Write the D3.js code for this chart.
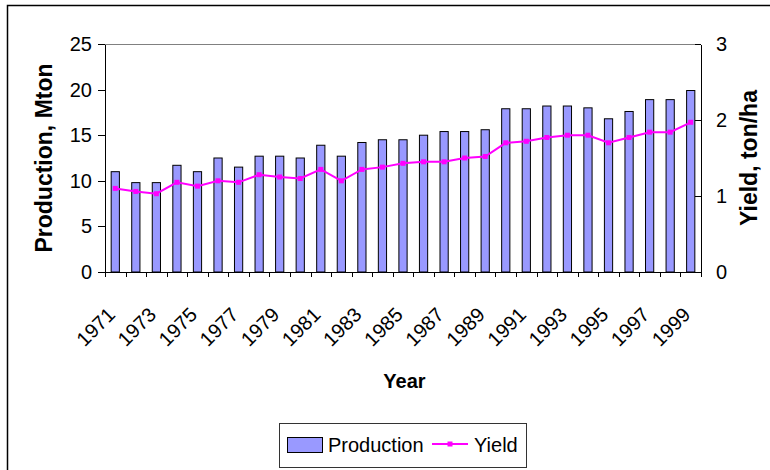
<!DOCTYPE html>
<html>
<head>
<meta charset="utf-8">
<script src="https://cdn.jsdelivr.net/npm/d3@7"></script>
<style>
  html, body { margin: 0; padding: 0; background: #fff; }
  svg { display: block; font-family: "Liberation Sans", Arial, sans-serif; }
  .axis path, .axis line { stroke: #000; shape-rendering: crispEdges; }
  .axis text { font-family: "Liberation Sans", Arial, sans-serif; font-size: 20px; fill: #000; }
</style>
</head>
<body>
<svg id="chart" width="770" height="470"></svg>
<script>
// years on the category axis, every other one gets a label
var years = d3.range(1971, 2000);
var yearLabels = years.filter(function (y) { return (y - 1971) % 2 === 0; });

// production, Mton (left axis)
var production = [11.0, 9.8, 9.8, 11.7, 11.0, 12.5, 11.5, 12.7, 12.7, 12.5,
                  13.9, 12.7, 14.2, 14.5, 14.5, 15.0, 15.4, 15.4, 15.6, 17.9,
                  17.9, 18.2, 18.2, 18.0, 16.8, 17.6, 18.9, 18.9, 19.9];

// yield, ton/ha (right axis)
var yieldVals = [1.10, 1.06, 1.03, 1.18, 1.13, 1.20, 1.18, 1.28, 1.25, 1.23,
                 1.35, 1.20, 1.35, 1.38, 1.43, 1.45, 1.45, 1.50, 1.52, 1.70,
                 1.72, 1.77, 1.80, 1.80, 1.70, 1.77, 1.84, 1.84, 1.97];

var leftTicks = [0, 5, 10, 15, 20, 25];
var rightTicks = [0, 1, 2, 3];

var plot = { left: 105, right: 701, top: 44, bottom: 272 };
var barColor = '#9999ff';
var lineColor = '#ff00ff';

var svg = d3.select('#chart');

// outer chart border (right and bottom edges run off the canvas)
svg.append('rect')
  .attr('x', 7.5).attr('y', 5.5)
  .attr('width', 800).attr('height', 500)
  .attr('fill', 'none')
  .attr('stroke', '#000')
  .attr('stroke-width', 1.5);

var x = d3.scaleBand()
  .domain(years)
  .range([plot.left, plot.right])
  .paddingInner(0.6)
  .paddingOuter(0.3);

// index scale, used for the category boundary ticks
var xIdx = d3.scaleLinear().domain([0, years.length]).range([plot.left, plot.right]);

var yL = d3.scaleLinear().domain([0, 25]).range([plot.bottom, plot.top]);
var yR = d3.scaleLinear().domain([0, 3]).range([plot.bottom, plot.top]);

// plot area top border
svg.append('line')
  .attr('x1', plot.left).attr('x2', plot.right)
  .attr('y1', plot.top + 0.5).attr('y2', plot.top + 0.5)
  .attr('stroke', '#808080')
  .attr('stroke-width', 1);

// bars
svg.append('g')
  .selectAll('rect')
  .data(production)
  .join('rect')
  .attr('x', function (d, i) { return x(years[i]); })
  .attr('y', function (d) { return yL(d); })
  .attr('width', x.bandwidth())
  .attr('height', function (d) { return yL(0) - yL(d); })
  .attr('fill', barColor)
  .attr('stroke', '#000')
  .attr('stroke-width', 1);

// yield line
var cx = function (i) { return x(years[i]) + x.bandwidth() / 2; };
var line = d3.line()
  .x(function (d, i) { return cx(i); })
  .y(function (d) { return yR(d); });

svg.append('path')
  .datum(yieldVals)
  .attr('d', line)
  .attr('fill', 'none')
  .attr('stroke', lineColor)
  .attr('stroke-width', 2);

svg.append('g')
  .selectAll('rect')
  .data(yieldVals)
  .join('rect')
  .attr('x', function (d, i) { return cx(i) - 2.5; })
  .attr('y', function (d) { return yR(d) - 2.5; })
  .attr('width', 5)
  .attr('height', 5)
  .attr('fill', lineColor);

// left axis
svg.append('g')
  .attr('class', 'axis')
  .attr('transform', 'translate(' + plot.left + ',0)')
  .call(d3.axisLeft(yL).tickValues(leftTicks).tickSize(7).tickSizeOuter(0).tickPadding(6));

// right axis, ticks point inward
svg.append('g')
  .attr('class', 'axis')
  .attr('transform', 'translate(' + plot.right + ',0)')
  .call(d3.axisRight(yR).tickValues(rightTicks).tickFormat(d3.format('d'))
    .tickSize(-6).tickSizeOuter(0).tickPadding(15));

// bottom axis: ticks on category boundaries, no labels
svg.append('g')
  .attr('class', 'axis')
  .attr('transform', 'translate(0,' + plot.bottom + ')')
  .call(d3.axisBottom(xIdx).tickValues(d3.range(years.length + 1)).tickSize(5).tickSizeOuter(0).tickFormat(''));

// rotated year labels
svg.append('g')
  .selectAll('text')
  .data(yearLabels)
  .join('text')
  .attr('transform', function (d) {
    return 'translate(' + (x(d) + x.bandwidth() / 2 + 1) + ',316) rotate(-45)';
  })
  .attr('text-anchor', 'end')
  .attr('font-size', 20)
  .text(function (d) { return d; });

// axis titles
svg.append('text')
  .attr('transform', 'translate(52,' + (plot.top + plot.bottom) / 2 + ') rotate(-90)')
  .attr('text-anchor', 'middle')
  .attr('font-size', 23)
  .attr('font-weight', 'bold')
  .text('Production, Mton');

svg.append('text')
  .attr('transform', 'translate(757,' + (plot.top + plot.bottom) / 2 + ') rotate(-90)')
  .attr('text-anchor', 'middle')
  .attr('font-size', 23)
  .attr('font-weight', 'bold')
  .text('Yield, ton/ha');

svg.append('text')
  .attr('x', 404.5)
  .attr('y', 388)
  .attr('text-anchor', 'middle')
  .attr('font-size', 20)
  .attr('font-weight', 'bold')
  .text('Year');

// legend
var legend = svg.append('g').attr('transform', 'translate(279,423)');
legend.append('rect')
  .attr('x', 0.5).attr('y', 0.5)
  .attr('width', 247).attr('height', 44)
  .attr('fill', '#fff')
  .attr('stroke', '#333')
  .attr('stroke-width', 1);
legend.append('rect')
  .attr('x', 8.5).attr('y', 14.5)
  .attr('width', 35).attr('height', 15)
  .attr('fill', barColor)
  .attr('stroke', '#000');
legend.append('text')
  .attr('x', 49).attr('y', 29)
  .attr('font-size', 20)
  .text('Production');
legend.append('line')
  .attr('x1', 153).attr('x2', 189)
  .attr('y1', 21).attr('y2', 21)
  .attr('stroke', lineColor)
  .attr('stroke-width', 2);
legend.append('rect')
  .attr('x', 168.5).attr('y', 18.5)
  .attr('width', 5).attr('height', 5)
  .attr('fill', lineColor);
legend.append('text')
  .attr('x', 195).attr('y', 29)
  .attr('font-size', 20)
  .text('Yield');
</script>
</body>
</html>
